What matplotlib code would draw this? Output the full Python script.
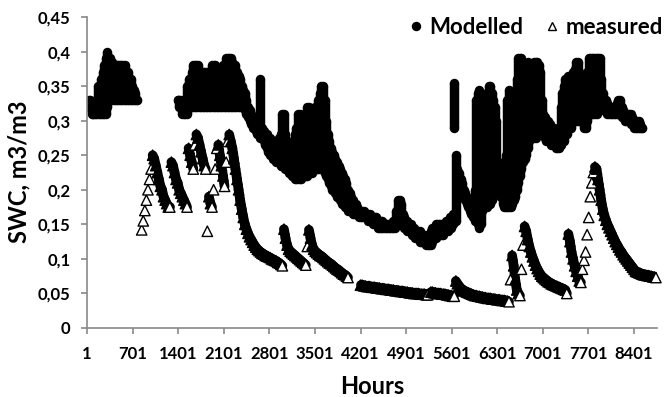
import numpy as np
import matplotlib.pyplot as plt
from matplotlib.lines import Line2D
from matplotlib.collections import LineCollection
from matplotlib.ticker import FuncFormatter

plt.rcParams['font.family'] = ['Lato', 'DejaVu Sans']
plt.rcParams['font.weight'] = 'bold'

nan = np.nan

# one reading per day (every 24 hours) over the year
hours = np.arange(1, 8761, 24)

# modelled SWC: lowest and highest value of each day
mod_low = [
    0.32, 0.32, 0.32, 0.31, 0.31, 0.31, 0.31, 0.31, 0.31, 0.31,
    0.31, 0.31, 0.31, 0.32, 0.33, 0.33, 0.33, 0.33, 0.33, 0.33,
    0.33, 0.33, 0.33, 0.33, 0.33, 0.33, 0.33, 0.33, 0.33, 0.33,
    0.33, 0.33, 0.33, nan, nan, nan, nan, nan, nan, nan,
    nan, nan, nan, nan, nan, nan, nan, nan, nan, nan,
    nan, nan, nan, nan, nan, nan, nan, nan, 0.33, 0.32,
    0.32, 0.31, 0.31, 0.31, 0.31, 0.32, 0.32, 0.32, 0.32, 0.32,
    0.32, 0.32, 0.32, 0.32, 0.32, 0.32, 0.32, 0.32, 0.32, 0.32,
    0.32, 0.32, 0.32, 0.32, 0.32, 0.32, 0.32, 0.32, 0.32, 0.32,
    0.32, 0.32, 0.32, 0.32, 0.32, 0.32, 0.32, 0.32, 0.32, 0.32,
    0.32, 0.315, 0.31, 0.305, 0.3, 0.295, 0.29, 0.29, 0.285, 0.28,
    0.28, 0.275, 0.275, 0.27, 0.265, 0.26, 0.255, 0.25, 0.25, 0.245,
    0.245, 0.24, 0.24, 0.24, 0.235, 0.235, 0.235, 0.23, 0.23, 0.225,
    0.225, 0.22, 0.22, 0.215, 0.215, 0.215, 0.215, 0.215, 0.22, 0.22,
    0.22, 0.22, 0.225, 0.225, 0.225, 0.23, 0.23, 0.23, 0.23, 0.23,
    0.23, 0.23, 0.225, 0.22, 0.215, 0.21, 0.205, 0.2, 0.2, 0.195,
    0.19, 0.19, 0.185, 0.18, 0.18, 0.175, 0.175, 0.17, 0.17, 0.17,
    0.165, 0.165, 0.165, 0.165, 0.16, 0.16, 0.16, 0.16, 0.16, 0.16,
    0.155, 0.155, 0.155, 0.15, 0.15, 0.15, 0.145, 0.145, 0.145, 0.145,
    0.145, 0.145, 0.145, 0.145, 0.145, 0.145, 0.145, 0.145, 0.15, 0.15,
    0.15, 0.15, 0.15, 0.145, 0.145, 0.14, 0.14, 0.14, 0.135, 0.135,
    0.13, 0.13, 0.13, 0.125, 0.125, 0.125, 0.125, 0.12, 0.12, 0.12,
    0.12, 0.125, 0.13, 0.13, 0.135, 0.135, 0.135, 0.135, 0.135, 0.14,
    0.14, 0.14, 0.145, 0.145, 0.15, 0.29, 0.155, 0.215, 0.21, 0.2,
    0.195, 0.19, 0.185, 0.18, 0.175, 0.17, 0.165, 0.16, 0.155, 0.155,
    0.15, 0.145, 0.15, 0.17, 0.175, 0.175, 0.175, 0.18, 0.18, 0.185,
    0.19, 0.2, 0.21, 0.22, 0.2, 0.19, 0.18, 0.175, 0.175, 0.175,
    0.175, 0.175, 0.18, 0.185, 0.19, 0.2, 0.21, 0.22, 0.23, 0.24,
    0.245, 0.25, 0.26, 0.27, 0.275, 0.275, 0.275, 0.275, 0.28, 0.28,
    0.285, 0.29, 0.28, 0.275, 0.27, 0.27, 0.27, 0.265, 0.265, 0.265,
    0.26, 0.26, 0.26, 0.265, 0.27, 0.27, 0.28, 0.28, 0.29, 0.29,
    0.29, 0.3, 0.3, 0.3, 0.3, 0.3, 0.3, 0.3, 0.29, 0.29,
    0.3, 0.31, 0.31, 0.31, 0.31, 0.31, 0.31, 0.315, 0.32, 0.32,
    0.315, 0.315, 0.315, 0.31, 0.31, 0.31, 0.31, 0.31, 0.31, 0.31,
    0.31, 0.31, 0.305, 0.305, 0.3, 0.3, 0.3, 0.3, 0.295, 0.295,
    0.29, 0.29, 0.29, 0.29, 0.29, 0.29, nan, nan, nan, nan,
    nan, nan, nan, nan, nan,
]
mod_high = [
    0.32, 0.33, 0.33, 0.32, 0.31, 0.32, 0.33, 0.35, 0.34, 0.36,
    0.37, 0.38, 0.39, 0.40, 0.39, 0.39, 0.385, 0.38, 0.38, 0.38,
    0.38, 0.38, 0.38, 0.38, 0.38, 0.37, 0.37, 0.36, 0.36, 0.35,
    0.345, 0.34, 0.33, nan, nan, nan, nan, nan, nan, nan,
    nan, nan, nan, nan, nan, nan, nan, nan, nan, nan,
    nan, nan, nan, nan, nan, nan, nan, nan, 0.33, 0.33,
    0.33, 0.32, 0.32, 0.33, 0.35, 0.36, 0.36, 0.37, 0.38, 0.38,
    0.38, 0.38, 0.37, 0.37, 0.37, 0.37, 0.37, 0.37, 0.37, 0.37,
    0.38, 0.38, 0.38, 0.375, 0.37, 0.36, 0.37, 0.38, 0.38, 0.39,
    0.39, 0.39, 0.39, 0.385, 0.38, 0.38, 0.37, 0.365, 0.36, 0.35,
    0.345, 0.34, 0.33, 0.32, 0.315, 0.31, 0.305, 0.3, 0.3, 0.295,
    0.29, 0.36, 0.29, 0.285, 0.28, 0.28, 0.275, 0.275, 0.27, 0.27,
    0.27, 0.27, 0.27, 0.275, 0.28, 0.31, 0.31, 0.28, 0.27, 0.265,
    0.265, 0.265, 0.27, 0.28, 0.29, 0.31, 0.31, 0.29, 0.3, 0.31,
    0.31, 0.32, 0.32, 0.31, 0.3, 0.31, 0.32, 0.32, 0.33, 0.34,
    0.35, 0.35, 0.33, 0.3, 0.28, 0.27, 0.26, 0.255, 0.25, 0.245,
    0.24, 0.235, 0.23, 0.225, 0.22, 0.215, 0.21, 0.2, 0.195, 0.19,
    0.185, 0.18, 0.18, 0.175, 0.17, 0.17, 0.17, 0.17, 0.165, 0.165,
    0.165, 0.165, 0.16, 0.16, 0.16, 0.16, 0.155, 0.155, 0.155, 0.155,
    0.15, 0.15, 0.15, 0.15, 0.15, 0.15, 0.155, 0.155, 0.17, 0.185,
    0.185, 0.18, 0.165, 0.16, 0.155, 0.155, 0.15, 0.15, 0.145, 0.145,
    0.14, 0.14, 0.14, 0.14, 0.135, 0.135, 0.135, 0.13, 0.13, 0.135,
    0.14, 0.145, 0.145, 0.15, 0.15, 0.15, 0.15, 0.15, 0.15, 0.15,
    0.155, 0.155, 0.16, 0.16, 0.165, 0.355, 0.25, 0.23, 0.225, 0.215,
    0.21, 0.2, 0.195, 0.19, 0.185, 0.18, 0.175, 0.17, 0.2, 0.33,
    0.34, 0.345, 0.34, 0.33, 0.33, 0.335, 0.34, 0.35, 0.35, 0.34,
    0.33, 0.32, 0.3, 0.24, 0.23, 0.23, 0.235, 0.24, 0.25, 0.33,
    0.345, 0.34, 0.33, 0.32, 0.33, 0.36, 0.39, 0.39, 0.39, 0.38,
    0.37, 0.38, 0.385, 0.38, 0.375, 0.38, 0.385, 0.385, 0.385, 0.38,
    0.37, 0.33, 0.31, 0.305, 0.3, 0.3, 0.295, 0.29, 0.29, 0.29,
    0.28, 0.27, 0.28, 0.32, 0.34, 0.35, 0.36, 0.36, 0.365, 0.36,
    0.36, 0.37, 0.375, 0.385, 0.385, 0.37, 0.35, 0.33, 0.34, 0.35,
    0.37, 0.39, 0.39, 0.39, 0.39, 0.39, 0.39, 0.39, 0.39, 0.36,
    0.34, 0.33, 0.33, 0.325, 0.32, 0.32, 0.32, 0.32, 0.32, 0.325,
    0.33, 0.33, 0.32, 0.315, 0.31, 0.31, 0.31, 0.31, 0.31, 0.305,
    0.3, 0.3, 0.3, 0.3, 0.295, 0.29, nan, nan, nan, nan,
    nan, nan, nan, nan, nan,
]

# measured SWC, one value per day
measured = [
    nan, nan, nan, nan, nan, nan, nan, nan, nan, nan,
    nan, nan, nan, nan, nan, nan, nan, nan, nan, nan,
    nan, nan, nan, nan, nan, nan, nan, nan, nan, nan,
    nan, nan, nan, nan, nan, 0.142, 0.155, 0.17, 0.185, 0.2,
    0.215, 0.23, 0.25, 0.245, 0.235, 0.225, 0.215, 0.205, 0.2, 0.19,
    0.185, 0.18, 0.175, 0.175, 0.24, 0.235, 0.225, 0.215, 0.21, 0.2,
    0.195, 0.19, 0.185, 0.18, 0.175, 0.26, 0.25, 0.24, 0.23, 0.265,
    0.28, 0.275, 0.265, 0.255, 0.245, 0.235, 0.23, 0.14, 0.19, 0.18,
    0.175, 0.2, 0.23, 0.26, 0.265, 0.25, 0.235, 0.22, 0.205, 0.24,
    0.27, 0.28, 0.27, 0.26, 0.245, 0.23, 0.215, 0.2, 0.185, 0.172,
    0.16, 0.15, 0.143, 0.137, 0.132, 0.128, 0.124, 0.12, 0.117, 0.114,
    0.112, 0.11, 0.108, 0.107, 0.105, 0.104, 0.103, 0.102, 0.1, 0.099,
    0.098, 0.097, 0.095, 0.094, 0.092, 0.09, 0.143, 0.13, 0.12, 0.114,
    0.111, 0.109, 0.107, 0.105, 0.103, 0.101, 0.099, 0.097, 0.095, 0.093,
    0.091, 0.118, 0.142, 0.13, 0.12, 0.114, 0.111, 0.109, 0.107, 0.105,
    0.104, 0.102, 0.1, 0.098, 0.096, 0.094, 0.093, 0.091, 0.089, 0.087,
    0.085, 0.084, 0.082, 0.08, 0.078, 0.077, 0.075, 0.073, nan, nan,
    nan, nan, nan, nan, nan, 0.062, 0.062, 0.061, 0.061, 0.06,
    0.06, 0.06, 0.059, 0.059, 0.059, 0.058, 0.058, 0.058, 0.057, 0.057,
    0.057, 0.056, 0.056, 0.056, 0.055, 0.055, 0.055, 0.054, 0.054, 0.054,
    0.053, 0.053, 0.053, 0.052, 0.052, 0.052, 0.051, 0.051, 0.051, 0.05,
    0.05, 0.05, 0.05, 0.049, 0.049, 0.049, 0.049, 0.048, 0.048, nan,
    0.052, 0.052, 0.051, 0.051, 0.05, 0.05, 0.05, 0.049, 0.049, 0.049,
    0.048, 0.048, 0.047, 0.047, 0.046, 0.046, 0.068, 0.064, 0.061, 0.058,
    0.056, 0.054, 0.053, 0.052, 0.051, 0.05, 0.049, 0.048, 0.047, 0.047,
    0.046, 0.046, 0.045, 0.045, 0.044, 0.044, 0.043, 0.043, 0.043, 0.042,
    0.042, 0.042, 0.041, 0.041, 0.041, 0.04, 0.04, 0.04, 0.039, 0.039,
    0.038, 0.07, 0.105, 0.09, 0.07, 0.055, 0.05, 0.047, 0.085, 0.12,
    0.147, 0.14, 0.128, 0.118, 0.11, 0.103, 0.097, 0.091, 0.086, 0.082,
    0.078, 0.075, 0.073, 0.071, 0.069, 0.067, 0.066, 0.064, 0.063, 0.062,
    0.061, 0.06, 0.059, 0.058, 0.057, 0.056, 0.055, 0.05, 0.136, 0.125,
    0.11, 0.1, 0.09, 0.082, 0.075, 0.068, 0.066, 0.085, 0.098, 0.11,
    0.135, 0.16, 0.19, 0.21, 0.225, 0.233, 0.23, 0.215, 0.2, 0.185,
    0.172, 0.163, 0.156, 0.15, 0.145, 0.14, 0.135, 0.13, 0.125, 0.121,
    0.117, 0.113, 0.11, 0.106, 0.103, 0.1, 0.097, 0.094, 0.091, 0.088,
    0.085, 0.082, 0.081, 0.08, 0.079, 0.078, 0.077, 0.077, 0.076, 0.076,
    0.075, 0.075, 0.074, 0.074, 0.073,
]

x_ticks = [1, 701, 1401, 2101, 2801, 3501, 4201, 4901, 5601, 6301, 7001, 7701, 8401]
y_ticks = [0, 0.05, 0.1, 0.15, 0.2, 0.25, 0.3, 0.35, 0.4, 0.45]

low = np.array(mod_low)
high = np.array(mod_high)
ok = ~np.isnan(low)

mea = np.array(measured)
nxt = np.append(mea[1:], nan)
# the hourly triangles pile up into a black band; a triangle stays open (white)
# only where the next reading does not cover it: gaps, rises and big drops
open_tri = np.isnan(nxt) | (nxt - mea > 0.003) | (mea - nxt > 0.03)
has_mea = ~np.isnan(mea)
tri_face = np.where(open_tri, 'white', 'black')[has_mea]

# falling runs between daily readings are a solid band of piled-up triangles
band = [[(hours[i], mea[i]), (hours[i + 1], mea[i + 1])]
        for i in range(len(mea) - 1)
        if has_mea[i] and has_mea[i + 1] and not open_tri[i]]

fig = plt.figure(figsize=(6.65, 3.97), dpi=100)
ax = fig.add_axes([87 / 665, 69 / 397, 570 / 665, 311 / 397])

# modelled: daily range drawn as a column of overlapping dots
ax.vlines(hours[ok], low[ok], high[ok], colors='black', linewidth=6.8, zorder=2)
ax.plot(hours, low, 'o', color='black', ms=6.8, mew=0, zorder=2)
ax.plot(hours, high, 'o', color='black', ms=6.8, mew=0, zorder=2)

ax.add_collection(LineCollection(band, colors='black', linewidths=7,
                                 capstyle='round', joinstyle='round', zorder=3))
ax.scatter(hours[has_mea], mea[has_mea], marker='^', s=56, facecolors=tri_face,
           edgecolors='black', linewidths=1.0, zorder=4, clip_on=False)

ax.set_xlim(1, 8754)
ax.set_ylim(0, 0.45)
ax.set_xticks(x_ticks)
ax.set_yticks(y_ticks)
ax.yaxis.set_major_formatter(FuncFormatter(lambda v, p: ('%g' % round(v, 2)).replace('.', ',')))

for s in ['top', 'right']:
    ax.spines[s].set_visible(False)
for s in ['left', 'bottom']:
    ax.spines[s].set_color('#898989')
    ax.spines[s].set_linewidth(1.2)
ax.tick_params(axis='both', colors='#898989', length=4, width=1.2, labelsize=12,
               labelcolor='black')
ax.tick_params(axis='x', pad=9)
ax.tick_params(axis='y', pad=8)

fig.text(19 / 665, 1 - 172 / 397, 'SWC, m3/m3', rotation=90, ha='center', va='center',
         fontsize=17, fontweight='bold')
fig.text(372 / 665, 1 - 387 / 397, 'Hours', ha='center', va='center',
         fontsize=17, fontweight='bold')

handles = [
    Line2D([], [], marker='o', ls='none', color='black', ms=6.8, mew=0),
    Line2D([], [], marker='^', ls='none', mfc='white', mec='black', ms=6, mew=1.0),
]
fig.legend(handles, ['Modelled', 'measured'], loc='center right',
           bbox_to_anchor=(1.0, 1 - 27 / 397), ncol=2, frameon=False, fontsize=16,
           handlelength=0.6, handletextpad=0.3, columnspacing=1.0,
           borderaxespad=0, borderpad=0.1)

fig.savefig('out.png', dpi=100)
